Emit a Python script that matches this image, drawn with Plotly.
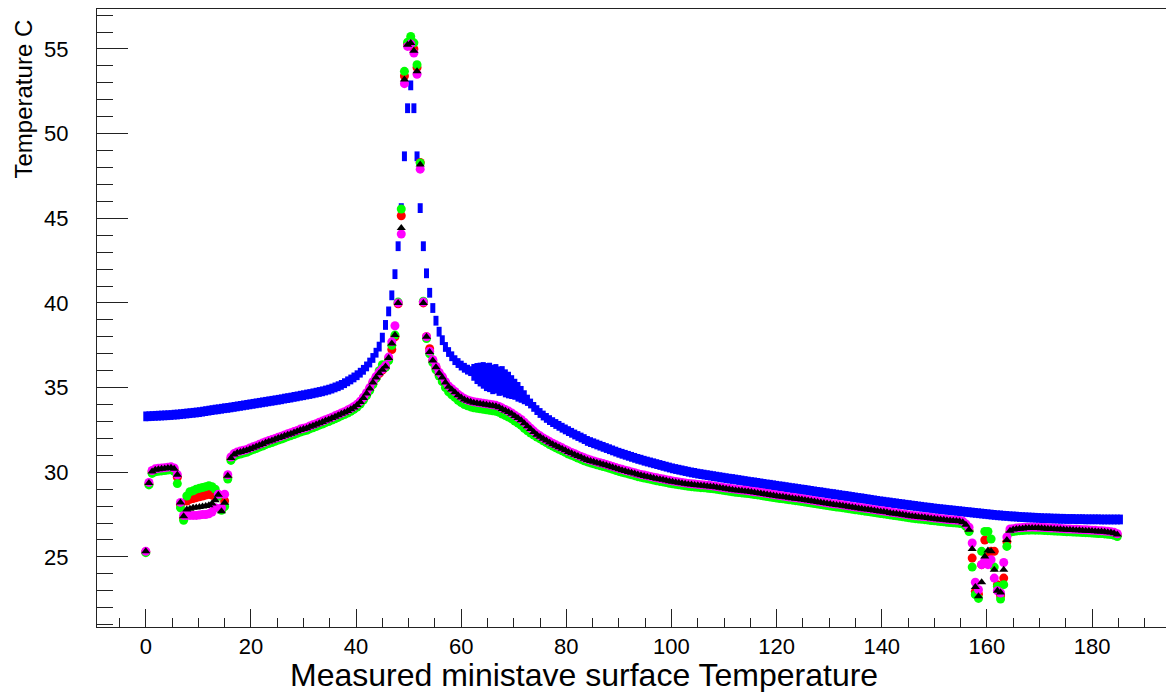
import plotly.graph_objects as go

# ---------------- data ----------------
STEP = 0.6  # sampling step of the measurement positions

blue_vals = [
    33.30, 33.31, 33.32, 33.33, 33.34, 33.35, 33.36, 33.37, 33.38, 33.40,
    33.41, 33.43, 33.45, 33.47, 33.49, 33.51, 33.53, 33.55, 33.58, 33.61,
    33.64, 33.67, 33.70, 33.72, 33.75, 33.78, 33.80, 33.83, 33.86, 33.89,
    33.92, 33.95, 33.98, 34.01, 34.04, 34.07, 34.10, 34.13, 34.16, 34.19,
    34.22, 34.25, 34.28, 34.31, 34.35, 34.38, 34.41, 34.45, 34.48, 34.52,
    34.55, 34.59, 34.62, 34.66, 34.70, 34.74, 34.78, 34.83, 34.88, 34.94,
    35.01, 35.08, 35.16, 35.26, 35.37, 35.48, 35.60, 35.73, 35.88, 36.05,
    36.25, 36.48, 36.75, 37.06, 37.42, 37.95, 38.70, 39.50, 40.45, 41.70,
    43.35, 45.60, 48.66, 51.50, 52.85, 51.50, 48.66, 45.60, 43.35, 41.75,
    40.60, 39.70, 38.95, 38.30, 37.80, 37.40, 37.10, 36.85, 36.62, 36.45,
    36.30, 36.17, 36.06, 35.97, 35.90, 35.83, 35.77, 35.72, 35.62, 35.60,
    35.48, 35.52, 35.38, 35.40, 35.25, 35.15, 35.03, 34.90, 34.75, 34.60,
    34.43, 34.25, 34.06, 33.86, 33.67, 33.50, 33.35, 33.21, 33.08, 32.96,
    32.85, 32.74, 32.63, 32.53, 32.43, 32.33, 32.23, 32.14, 32.05, 31.96,
    31.85, 31.78, 31.71, 31.64, 31.57, 31.50, 31.43, 31.36, 31.29, 31.22,
    31.15, 31.09, 31.03, 30.97, 30.91, 30.85, 30.79, 30.74, 30.68, 30.63,
    30.58, 30.53, 30.48, 30.43, 30.38, 30.33, 30.28, 30.23, 30.19, 30.15,
    30.11, 30.07, 30.03, 29.99, 29.96, 29.92, 29.89, 29.86, 29.83, 29.80,
    29.77, 29.74, 29.71, 29.68, 29.65, 29.62, 29.60, 29.57, 29.54, 29.51,
    29.48, 29.45, 29.42, 29.40, 29.37, 29.34, 29.31, 29.28, 29.26, 29.23,
    29.20, 29.17, 29.15, 29.12, 29.09, 29.06, 29.04, 29.01, 28.98, 28.96,
    28.93, 28.90, 28.87, 28.84, 28.82, 28.79, 28.76, 28.73, 28.71, 28.68,
    28.65, 28.62, 28.60, 28.57, 28.54, 28.51, 28.48, 28.46, 28.43, 28.40,
    28.37, 28.34, 28.31, 28.28, 28.26, 28.23, 28.21, 28.18, 28.16, 28.13,
    28.11, 28.08, 28.06, 28.03, 28.01, 27.98, 27.96, 27.93, 27.91, 27.89,
    27.86, 27.84, 27.82, 27.80, 27.78, 27.76, 27.74, 27.72, 27.70, 27.68,
    27.66, 27.64, 27.62, 27.60, 27.58, 27.56, 27.54, 27.52, 27.50, 27.48,
    27.46, 27.45, 27.43, 27.42, 27.40, 27.39, 27.38, 27.36, 27.35, 27.34,
    27.33, 27.32, 27.31, 27.30, 27.29, 27.28, 27.28, 27.27, 27.26, 27.26,
    27.25, 27.25, 27.24, 27.24, 27.24, 27.23, 27.23, 27.23, 27.22, 27.22,
    27.22, 27.22, 27.22, 27.21, 27.21, 27.21, 27.21, 27.21, 27.21, 27.21,
]

red_vals = [
    25.30, 29.30, 30.03, 30.13, 30.16, 30.18, 30.20, 30.23, 30.25, 30.15,
    29.70, 28.10, 27.30, 28.30, 28.40, 28.45, 28.50, 28.55, 28.60, 28.65,
    28.70, 28.65, 28.55, 28.60, 27.80, 28.30, 29.70, 30.80, 31.03, 31.13,
    31.18, 31.23, 31.28, 31.36, 31.43, 31.50, 31.58, 31.65, 31.73, 31.80,
    31.86, 31.93, 32.00, 32.06, 32.13, 32.20, 32.26, 32.33, 32.40, 32.48,
    32.53, 32.58, 32.66, 32.73, 32.80, 32.88, 32.95, 33.03, 33.10, 33.18,
    33.26, 33.34, 33.43, 33.51, 33.60, 33.70, 33.81, 33.95, 34.13, 34.36,
    34.63, 34.93, 35.28, 35.58, 35.83, 36.03, 36.23, 36.70, 37.25, 38.00,
    39.95, 45.15, 53.40, 55.30, 55.50, 55.00, 53.90, 48.30, 40.00, 38.00,
    37.30, 36.58, 36.18, 35.83, 35.58, 35.28, 35.03, 34.86, 34.70, 34.53,
    34.40, 34.28, 34.20, 34.14, 34.09, 34.06, 34.03, 34.00, 33.97, 33.94,
    33.91, 33.88, 33.82, 33.72, 33.63, 33.54, 33.43, 33.30, 33.18, 33.05,
    32.88, 32.70, 32.53, 32.36, 32.20, 32.08, 31.96, 31.85, 31.74, 31.64,
    31.55, 31.46, 31.37, 31.28, 31.18, 31.10, 31.02, 30.94, 30.86, 30.78,
    30.71, 30.65, 30.60, 30.54, 30.49, 30.44, 30.39, 30.33, 30.27, 30.21,
    30.15, 30.10, 30.05, 30.00, 29.95, 29.90, 29.84, 29.80, 29.76, 29.72,
    29.68, 29.64, 29.60, 29.56, 29.53, 29.49, 29.45, 29.42, 29.39, 29.36,
    29.33, 29.30, 29.27, 29.25, 29.23, 29.21, 29.19, 29.18, 29.16, 29.14,
    29.12, 29.09, 29.06, 29.03, 29.00, 28.98, 28.95, 28.92, 28.90, 28.88,
    28.86, 28.84, 28.81, 28.78, 28.76, 28.73, 28.70, 28.67, 28.64, 28.61,
    28.58, 28.55, 28.53, 28.50, 28.47, 28.45, 28.42, 28.40, 28.37, 28.34,
    28.31, 28.28, 28.25, 28.22, 28.19, 28.16, 28.13, 28.10, 28.07, 28.05,
    28.03, 28.00, 27.97, 27.94, 27.91, 27.88, 27.86, 27.83, 27.80, 27.78,
    27.75, 27.72, 27.69, 27.66, 27.64, 27.61, 27.58, 27.55, 27.53, 27.50,
    27.47, 27.44, 27.41, 27.38, 27.36, 27.34, 27.32, 27.30, 27.28, 27.25,
    27.23, 27.21, 27.19, 27.17, 27.14, 27.13, 27.11, 27.10, 27.08, 27.02,
    26.88, 26.55, 24.93, 22.95, 22.80, 24.54, 26.00, 25.10, 25.33, 25.33,
    23.36, 22.70, 23.75, 25.90, 26.50, 26.60, 26.63, 26.65, 26.66, 26.68,
    26.68, 26.69, 26.68, 26.68, 26.67, 26.66, 26.65, 26.64, 26.63, 26.62,
    26.61, 26.60, 26.58, 26.58, 26.57, 26.56, 26.55, 26.54, 26.53, 26.52,
    26.51, 26.50, 26.48, 26.48, 26.46, 26.44, 26.42, 26.38, 26.30,
]

green_vals = [
    25.25, 29.25, 29.93, 30.03, 30.06, 30.08, 30.10, 30.13, 30.15, 30.05,
    29.33, 27.90, 27.16, 28.60, 28.85, 28.90, 29.00, 29.05, 29.10, 29.15,
    29.20, 29.15, 29.00, 28.60, 27.75, 27.98, 29.60, 30.70, 30.93, 31.03,
    31.08, 31.13, 31.18, 31.26, 31.33, 31.40, 31.48, 31.55, 31.63, 31.70,
    31.76, 31.83, 31.90, 31.96, 32.03, 32.10, 32.16, 32.23, 32.30, 32.38,
    32.43, 32.48, 32.56, 32.63, 32.70, 32.78, 32.85, 32.93, 33.00, 33.08,
    33.16, 33.24, 33.33, 33.41, 33.50, 33.60, 33.71, 33.85, 34.03, 34.26,
    34.53, 34.83, 35.18, 35.55, 36.00, 36.35, 36.20, 36.60, 37.50, 38.10,
    40.05, 45.55, 53.68, 55.40, 55.74, 55.36, 54.07, 48.27, 40.10, 37.90,
    37.00, 36.48, 36.05, 35.68, 35.35, 35.00, 34.75, 34.58, 34.42, 34.25,
    34.12, 34.00, 33.92, 33.86, 33.81, 33.78, 33.75, 33.72, 33.69, 33.66,
    33.63, 33.60, 33.54, 33.44, 33.35, 33.26, 33.15, 33.02, 32.90, 32.77,
    32.60, 32.45, 32.32, 32.20, 32.08, 31.98, 31.86, 31.75, 31.64, 31.54,
    31.45, 31.36, 31.27, 31.18, 31.08, 31.00, 30.92, 30.84, 30.76, 30.68,
    30.61, 30.55, 30.50, 30.44, 30.39, 30.34, 30.29, 30.23, 30.17, 30.11,
    30.05, 30.00, 29.95, 29.90, 29.85, 29.80, 29.74, 29.70, 29.66, 29.62,
    29.58, 29.54, 29.50, 29.46, 29.43, 29.39, 29.35, 29.32, 29.29, 29.26,
    29.23, 29.20, 29.17, 29.15, 29.13, 29.11, 29.09, 29.08, 29.06, 29.04,
    29.02, 28.99, 28.96, 28.93, 28.90, 28.88, 28.85, 28.82, 28.80, 28.78,
    28.76, 28.74, 28.71, 28.68, 28.66, 28.63, 28.60, 28.57, 28.54, 28.51,
    28.48, 28.45, 28.43, 28.40, 28.37, 28.35, 28.32, 28.30, 28.27, 28.24,
    28.21, 28.18, 28.15, 28.12, 28.09, 28.06, 28.03, 28.00, 27.97, 27.95,
    27.93, 27.90, 27.87, 27.84, 27.81, 27.78, 27.76, 27.73, 27.70, 27.68,
    27.65, 27.62, 27.59, 27.56, 27.54, 27.51, 27.48, 27.45, 27.43, 27.40,
    27.37, 27.34, 27.31, 27.28, 27.26, 27.24, 27.22, 27.20, 27.18, 27.15,
    27.13, 27.11, 27.09, 27.07, 27.04, 27.03, 27.01, 27.00, 26.98, 26.95,
    26.80, 26.50, 24.40, 22.77, 22.55, 25.33, 26.50, 26.50, 26.06, 24.40,
    23.26, 22.51, 23.36, 25.62, 26.45, 26.50, 26.53, 26.55, 26.56, 26.58,
    26.58, 26.59, 26.58, 26.58, 26.57, 26.56, 26.55, 26.54, 26.53, 26.52,
    26.51, 26.50, 26.48, 26.48, 26.47, 26.46, 26.45, 26.44, 26.43, 26.42,
    26.41, 26.40, 26.38, 26.38, 26.36, 26.34, 26.32, 26.28, 26.20,
]

magenta_vals = [
    25.33, 29.40, 30.10, 30.20, 30.23, 30.25, 30.27, 30.30, 30.32, 30.25,
    29.85, 28.22, 27.45, 27.45, 27.45, 27.45, 27.45, 27.47, 27.50, 27.50,
    27.55, 27.65, 27.90, 28.70, 27.90, 28.70, 29.85, 30.90, 31.10, 31.20,
    31.25, 31.30, 31.35, 31.43, 31.50, 31.57, 31.65, 31.72, 31.80, 31.87,
    31.93, 32.00, 32.07, 32.13, 32.20, 32.27, 32.33, 32.40, 32.47, 32.55,
    32.60, 32.65, 32.73, 32.80, 32.87, 32.95, 33.02, 33.10, 33.17, 33.25,
    33.33, 33.41, 33.50, 33.58, 33.67, 33.77, 33.88, 34.02, 34.20, 34.43,
    34.70, 35.00, 35.35, 35.65, 35.90, 36.10, 36.30, 36.80, 37.70, 38.65,
    40.00, 44.07, 52.95, 55.15, 55.30, 54.76, 53.50, 47.90, 40.05, 38.00,
    37.15, 36.65, 36.25, 35.90, 35.65, 35.35, 35.10, 34.93, 34.77, 34.60,
    34.47, 34.35, 34.27, 34.21, 34.16, 34.13, 34.10, 34.07, 34.04, 34.01,
    33.98, 33.95, 33.89, 33.79, 33.70, 33.61, 33.50, 33.37, 33.25, 33.12,
    32.95, 32.77, 32.60, 32.43, 32.27, 32.15, 32.03, 31.92, 31.81, 31.71,
    31.62, 31.53, 31.44, 31.35, 31.25, 31.17, 31.09, 31.01, 30.93, 30.85,
    30.78, 30.72, 30.67, 30.61, 30.56, 30.51, 30.46, 30.40, 30.34, 30.28,
    30.22, 30.17, 30.12, 30.07, 30.02, 29.97, 29.91, 29.87, 29.83, 29.79,
    29.75, 29.71, 29.67, 29.63, 29.60, 29.56, 29.52, 29.49, 29.46, 29.43,
    29.40, 29.37, 29.34, 29.32, 29.30, 29.28, 29.26, 29.25, 29.23, 29.21,
    29.19, 29.16, 29.13, 29.10, 29.07, 29.05, 29.02, 28.99, 28.97, 28.95,
    28.93, 28.91, 28.88, 28.85, 28.83, 28.80, 28.77, 28.74, 28.71, 28.68,
    28.65, 28.62, 28.60, 28.57, 28.54, 28.52, 28.49, 28.47, 28.44, 28.41,
    28.38, 28.35, 28.32, 28.29, 28.26, 28.23, 28.20, 28.17, 28.14, 28.12,
    28.10, 28.07, 28.04, 28.01, 27.98, 27.95, 27.93, 27.90, 27.87, 27.85,
    27.82, 27.79, 27.76, 27.73, 27.71, 27.68, 27.65, 27.62, 27.60, 27.57,
    27.54, 27.51, 27.48, 27.45, 27.43, 27.41, 27.39, 27.37, 27.35, 27.32,
    27.30, 27.28, 27.26, 27.24, 27.21, 27.20, 27.18, 27.17, 27.15, 27.10,
    26.95, 26.75, 25.82, 23.50, 23.06, 24.54, 24.80, 24.54, 24.83, 23.75,
    23.00, 22.87, 24.67, 26.18, 26.65, 26.67, 26.70, 26.72, 26.73, 26.75,
    26.75, 26.76, 26.75, 26.75, 26.74, 26.73, 26.72, 26.71, 26.70, 26.69,
    26.68, 26.67, 26.65, 26.65, 26.64, 26.63, 26.62, 26.61, 26.60, 26.59,
    26.58, 26.57, 26.55, 26.55, 26.53, 26.51, 26.49, 26.45, 26.37,
]

black_vals = [
    25.33, 29.36, 30.05, 30.15, 30.18, 30.20, 30.22, 30.25, 30.27, 30.20,
    29.85, 28.22, 27.40, 27.80, 27.85, 27.90, 27.92, 27.95, 27.97, 28.00,
    28.05, 28.15, 28.35, 28.67, 27.70, 28.20, 29.80, 30.84, 31.05, 31.15,
    31.20, 31.25, 31.30, 31.38, 31.45, 31.52, 31.60, 31.67, 31.75, 31.82,
    31.88, 31.95, 32.02, 32.08, 32.15, 32.22, 32.28, 32.35, 32.42, 32.50,
    32.55, 32.60, 32.68, 32.75, 32.82, 32.90, 32.97, 33.05, 33.12, 33.20,
    33.28, 33.36, 33.45, 33.53, 33.62, 33.72, 33.83, 33.97, 34.15, 34.38,
    34.65, 34.95, 35.30, 35.60, 35.85, 36.05, 36.25, 36.75, 37.60, 38.10,
    40.00, 44.43, 53.19, 55.25, 55.35, 54.90, 53.68, 48.17, 40.00, 38.00,
    37.10, 36.60, 36.20, 35.85, 35.60, 35.30, 35.05, 34.88, 34.72, 34.55,
    34.42, 34.30, 34.22, 34.16, 34.11, 34.08, 34.05, 34.02, 33.99, 33.96,
    33.93, 33.90, 33.84, 33.74, 33.65, 33.56, 33.45, 33.32, 33.20, 33.07,
    32.90, 32.72, 32.55, 32.38, 32.22, 32.10, 31.98, 31.87, 31.76, 31.66,
    31.57, 31.48, 31.39, 31.30, 31.20, 31.12, 31.04, 30.96, 30.88, 30.80,
    30.73, 30.67, 30.62, 30.56, 30.51, 30.46, 30.41, 30.35, 30.29, 30.23,
    30.17, 30.12, 30.07, 30.02, 29.97, 29.92, 29.86, 29.82, 29.78, 29.74,
    29.70, 29.66, 29.62, 29.58, 29.55, 29.51, 29.47, 29.44, 29.41, 29.38,
    29.35, 29.32, 29.29, 29.27, 29.25, 29.23, 29.21, 29.20, 29.18, 29.16,
    29.14, 29.11, 29.08, 29.05, 29.02, 29.00, 28.97, 28.94, 28.92, 28.90,
    28.88, 28.86, 28.83, 28.80, 28.78, 28.75, 28.72, 28.69, 28.66, 28.63,
    28.60, 28.57, 28.55, 28.52, 28.49, 28.47, 28.44, 28.42, 28.39, 28.36,
    28.33, 28.30, 28.27, 28.24, 28.21, 28.18, 28.15, 28.12, 28.09, 28.07,
    28.05, 28.02, 27.99, 27.96, 27.93, 27.90, 27.88, 27.85, 27.82, 27.80,
    27.77, 27.74, 27.71, 27.68, 27.66, 27.63, 27.60, 27.57, 27.55, 27.52,
    27.49, 27.46, 27.43, 27.40, 27.38, 27.36, 27.34, 27.32, 27.30, 27.27,
    27.25, 27.23, 27.21, 27.19, 27.16, 27.15, 27.13, 27.12, 27.10, 27.05,
    26.90, 26.60, 25.47, 23.22, 22.67, 23.50, 25.03, 25.38, 25.33, 24.24,
    23.00, 22.90, 24.24, 26.00, 26.55, 26.62, 26.65, 26.67, 26.68, 26.70,
    26.70, 26.71, 26.70, 26.70, 26.69, 26.68, 26.67, 26.66, 26.65, 26.64,
    26.63, 26.62, 26.60, 26.60, 26.59, 26.58, 26.57, 26.56, 26.55, 26.54,
    26.53, 26.52, 26.50, 26.50, 26.48, 26.46, 26.44, 26.40, 26.32,
]

x_tick_vals = [0, 20, 40, 60, 80, 100, 120, 140, 160, 180]
y_tick_vals = [25, 30, 35, 40, 45, 50, 55]

X_TITLE = "Measured ministave surface Temperature"
Y_TITLE = "Temperature C"

# style: the blue band is visibly thicker (scattered) between ~62 and ~72
BLUE_BAR_PX = 7
BLUE_THICK_BAND = {104: 12, 105: 15, 106: 17, 107: 19, 108: 20, 109: 21,
                   110: 21, 111: 21, 112: 21, 113: 21, 114: 20, 115: 19,
                   116: 17, 117: 15, 118: 14, 119: 12, 120: 10, 121: 8}


def positions(vals):
    return [round(STEP * i, 1) for i in range(len(vals))]


FONT = "Liberation Sans, Arial, Helvetica, sans-serif"

fig = go.Figure()

blue_sizes = [BLUE_THICK_BAND.get(i, BLUE_BAR_PX) for i in range(len(blue_vals))]

# blue: rectangles slightly taller than wide (vertical bar markers)
fig.add_trace(go.Scatter(
    x=positions(blue_vals), y=blue_vals, mode="markers",
    marker=dict(symbol="line-ns", size=blue_sizes, color="#0000ff", opacity=1,
                line=dict(width=5, color="#0000ff")),
    hoverinfo="skip", showlegend=False))

for vals, col in [(red_vals, "#ff0000"), (green_vals, "#00ff00"),
                  (magenta_vals, "#ff00ff")]:
    fig.add_trace(go.Scatter(
        x=positions(vals), y=vals, mode="markers",
        marker=dict(symbol="circle", size=9, color=col, opacity=1, line=dict(width=0)),
        hoverinfo="skip", showlegend=False))

fig.add_trace(go.Scatter(
    x=positions(black_vals), y=black_vals, mode="markers",
    marker=dict(symbol="triangle-up", size=8, color="#000000", opacity=1,
                line=dict(width=0)),
    hoverinfo="skip", showlegend=False))

L, R, T, B = 97, 0, 9, 65
W, H = 1166, 692
PW, PH = W - L - R, H - T - B

fig.update_layout(
    width=W, height=H,
    margin=dict(l=L, r=R, t=T, b=B, pad=0),
    paper_bgcolor="white", plot_bgcolor="white",
    font=dict(family=FONT, color="black"),
    showlegend=False,
    xaxis=dict(
        range=[-9.28, 194.07], showgrid=False, zeroline=False,
        showline=True, linecolor="#222", linewidth=1, mirror=True,
        tickmode="array", tickvals=x_tick_vals,
        ticks="inside", ticklen=18, tickwidth=1, tickcolor="#222",
        minor=dict(ticks="inside", ticklen=9, dtick=5, tick0=0, tickcolor="#222", tickwidth=1),
        tickfont=dict(size=22, family=FONT, color="black"),
        ticklabelstandoff=0,
    ),
    yaxis=dict(
        range=[20.86, 57.36], showgrid=False, zeroline=False,
        showline=True, linecolor="#222", linewidth=1, mirror=False,
        tickmode="array", tickvals=y_tick_vals,
        ticks="inside", ticklen=31, tickwidth=1, tickcolor="#222",
        minor=dict(ticks="inside", ticklen=16, dtick=1, tick0=0, tickcolor="#222", tickwidth=1),
        tickfont=dict(size=22, family=FONT, color="black"),
        ticklabelstandoff=23,
    ),
    annotations=[
        dict(text=X_TITLE, xref="paper", yref="paper",
             x=(584 - L) / PW, y=(H - B - 675) / PH,
             xanchor="center", yanchor="middle", showarrow=False,
             borderpad=0,
             font=dict(size=32, family=FONT, color="black")),
        dict(text=Y_TITLE, xref="paper", yref="paper", textangle=-90,
             x=(23 - L) / PW, y=(H - B - 18) / PH,
             xanchor="center", yanchor="top", showarrow=False,
             font=dict(size=24, family=FONT, color="black")),
    ],
)

fig.write_html("out.html")
